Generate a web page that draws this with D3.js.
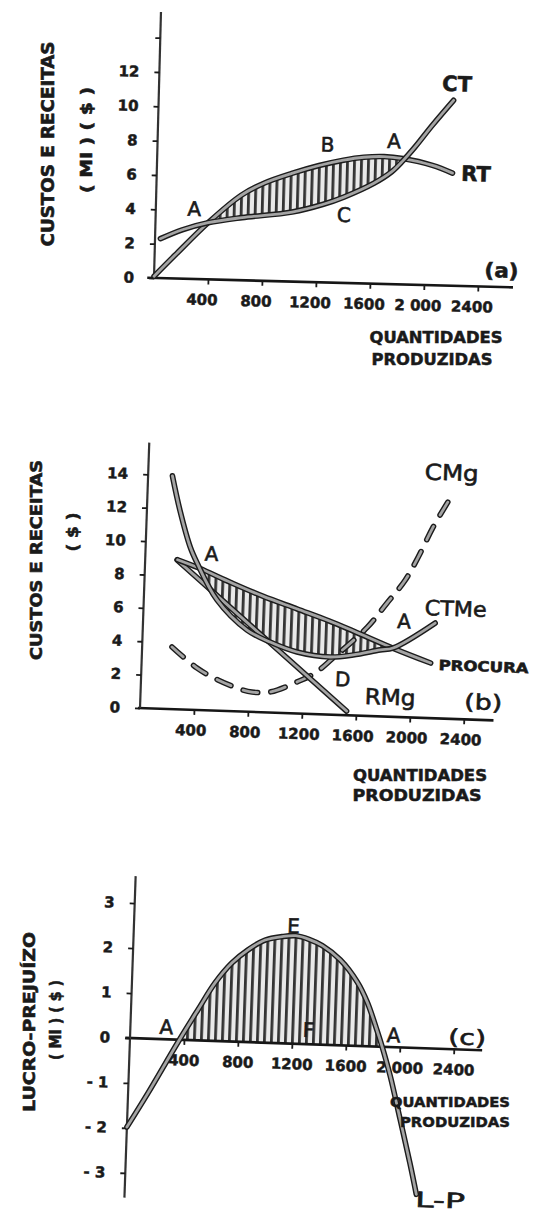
<!DOCTYPE html>
<html>
<head>
<meta charset="utf-8">
<script src="https://cdn.jsdelivr.net/npm/d3@7"></script>
<style>
  body { margin: 0; background: #fff; }
  svg { display: block; background: #fff; }
  text { font-family: "DejaVu Sans", sans-serif; fill: #1a1a1a; }
</style>
</head>
<body>
<div id="chart"></div>
<script>
// (a) receita total / custo total (milhares de $)
var rtQ = [0, 150, 390, 630, 800, 1000, 1200, 1380, 1530, 1680, 1820, 2040, 2190];
var rtV = [0.1, 1.35, 3.3, 4.95, 5.7, 6.3, 6.8, 7.15, 7.35, 7.42, 7.33, 6.98, 6.56];
var ctQ = [40, 200, 390, 640, 1010, 1240, 1390, 1610, 1740, 1820, 1905, 2030, 2184];
var ctV = [2.3, 2.85, 3.3, 3.65, 4.05, 4.55, 5.0, 5.85, 6.55, 7.2, 8.0, 9.3, 10.8];

// (b) procura, receita marginal, custo medio e custo marginal ($)
var procuraQ = [240, 400, 640, 880, 1140, 1380, 1560, 1860, 2140];
var procuraV = [8.95, 8.5, 7.7, 6.95, 6.25, 5.6, 5.05, 4.1, 3.3];
var rmgQ = [236, 1530];
var rmgV = [8.94, 0.25];
var ctmeQ = [180, 245, 330, 385, 542, 772, 946, 1148, 1394, 1564, 1763, 1858, 2163];
var ctmeV = [13.96, 11.9, 9.74, 8.8, 6.63, 4.89, 4.22, 3.68, 3.45, 3.62, 3.98, 4.12, 5.7];
var cmgQ = [221, 412, 570, 758, 825, 959, 1156, 1287, 1417, 1661, 1802, 1930, 2020, 2124, 2242];
var cmgV = [3.72, 2.51, 1.84, 1.29, 1.19, 1.23, 1.89, 2.46, 3.4, 5.3, 6.8, 8.2, 9.6, 11.45, 13.2];

// (c) lucro-prejuizo (milhares de $)
var lpQ = [0, 147, 357, 496, 615, 736, 851, 975, 1100, 1200, 1300, 1400, 1536, 1668, 1747, 1828, 1869, 1936, 2021, 2106, 2160];
var lpV = [-1.98, -1.21, -0.05, 0.68, 1.29, 1.75, 2.05, 2.28, 2.37, 2.4, 2.33, 2.2, 1.9, 1.42, 0.98, 0.35, 0, -0.64, -1.6, -2.58, -3.25];

// ticks
var xTicks = [400, 800, 1200, 1600, 2000, 2400];
var xTickLabelsA = ['400', '800', '1200', '1600', '2 000', '2400'];
var xTickLabelsB = ['400', '800', '1200', '1600', '2000', '2400'];
var xTickLabelsC = ['400', '800', '1200', '1600', '2 000', '2400'];
var yTicksAB = [0, 2, 4, 6, 8, 10, 12, 14];
var yTickLabelsA = ['0', '2', '4', '6', '8', '10', '12', ''];
var yTickLabelsB = ['0', '2', '4', '6', '8', '10', '12', '14'];
var yTicksC = [-3, -2, -1, 0, 1, 2, 3];
var yTickLabelsC = ['- 3', '- 2', '- 1', '0', '1', '2', '3'];

// curve labels: text, quantity, value
var labelsA = [['A', 285, 4.1], ['B', 1260, 8.04], ['A', 1750, 8.34], ['C', 1395, 3.98],
               ['CT', 2207, 11.78], ['RT', 2364, 6.57], ['(a)', 2572, 0.98]];
var labelsB = [['A', 490, 9.4], ['A', 1933, 5.76], ['CMg', 2247, 14.75], ['CTMe', 2311, 6.62],
               ['PROCURA', 2533, 3.2], ['D', 1493, 2.16], ['RMg', 1849, 1.18], ['(b)', 2539, 1.08]];
var labelsC = [['E', 1182, 2.62], ['F', 1320, 0.32], ['A', 267, 0.28], ['A', 1951, 0.27],
               ['(c)', 2496, 0.28], ['L-P', 2338, -3.36]];

var labelStyle = {
  'CT': { size: 21, weight: 'bold' },
  'RT': { size: 21, weight: 'bold' },
  'CMg': { size: 22, weight: 'normal', len: 54 },
  'CTMe': { size: 21, weight: 'normal', len: 62 },
  'RMg': { size: 22, weight: 'normal', len: 51 },
  'PROCURA': { size: 14, weight: 'bold', len: 90 },
  'L-P': { size: 21, weight: 'normal', len: 50 },
  '(a)': { size: 20, weight: 'bold', len: 34 },
  '(b)': { size: 21, weight: 'normal', len: 38 },
  '(c)': { size: 21, weight: 'normal', len: 38 }
};

var width = 533, height = 1213;
var svg = d3.select('#chart').append('svg')
  .attr('width', width)
  .attr('height', height);

// vertical hatching used for the profit areas
var pat = svg.append('defs').append('pattern')
  .attr('id', 'hatch')
  .attr('patternUnits', 'userSpaceOnUse')
  .attr('width', 7)
  .attr('height', 7);
pat.append('rect').attr('width', 7).attr('height', 7).attr('fill', '#e9e9e9');
pat.append('rect').attr('width', 2.8).attr('height', 7).attr('fill', '#333');

var smooth = d3.curveCatmullRom.alpha(0.5);

function drawPanel(p){
  // the scanned figure is slightly tilted, so each panel is rotated a bit
  var g = svg.append('g')
    .attr('transform', 'translate(' + p.ox + ',' + p.oy + ') rotate(' + p.rot + ')');

  var x = d3.scaleLinear().domain([0, 2400]).range([0, 324]);
  var y = d3.scaleLinear().domain(p.yDom).range(p.yRng);

  var line = d3.line()
    .x(function(d){ return x(d[0]) })
    .y(function(d){ return y(d[1]) })
    .curve(smooth);

  // shaded area: under the upper curve, clipped to above the lower one
  var under = d3.area()
    .x(function(d){ return x(d[0]) })
    .y0(y(0))
    .y1(function(d){ return y(d[1]) })
    .curve(smooth);
  var above = d3.area()
    .x(function(d){ return x(d[0]) })
    .y0(y(p.axisY[1]))
    .y1(function(d){ return y(d[1]) })
    .curve(smooth);

  var clip = g.append('clipPath').attr('id', 'clip-' + p.id);
  if(p.lower){
    clip.append('path').attr('d', above(p.lower));
  }else{
    clip.append('rect')
      .attr('x', x(-100)).attr('y', y(p.axisY[1]))
      .attr('width', x(2800) - x(-100))
      .attr('height', y(0) - y(p.axisY[1]));
  }
  g.append('path')
    .attr('d', under(p.upper))
    .attr('fill', 'url(#hatch)')
    .attr('clip-path', 'url(#clip-' + p.id + ')');

  // axes
  g.append('line')
    .attr('x1', x(p.axisX[0])).attr('x2', x(p.axisX[1]))
    .attr('y1', y(0)).attr('y2', y(0))
    .attr('stroke', '#161616').attr('stroke-width', 2.6);
  g.append('line')
    .attr('x1', x(0)).attr('x2', x(0))
    .attr('y1', y(p.axisY[0])).attr('y2', y(p.axisY[1]))
    .attr('stroke', '#333').attr('stroke-width', 2.2);

  var yAxis = d3.axisLeft(y)
    .tickValues(p.yTicks)
    .tickFormat(function(d, i){ return p.yLabels[i] })
    .tickSize(5)
    .tickPadding(15);
  var ya = g.append('g').call(yAxis)
    .attr('font-family', '"DejaVu Sans", sans-serif')
    .attr('font-size', 15)
    .attr('font-weight', 'bold')
    .attr('color', '#1a1a1a');
  ya.select('.domain').remove();
  ya.selectAll('.tick line').attr('stroke-width', 1.8);
  ya.selectAll('.tick text').attr('stroke', '#1a1a1a').attr('stroke-width', 0.5);

  var xAxis = d3.axisBottom(x)
    .tickValues(xTicks)
    .tickFormat(function(d, i){ return p.xLabels[i] })
    .tickSize(5)
    .tickPadding(10);
  var xa = g.append('g')
    .attr('transform', 'translate(0,' + y(0) + ')')
    .call(xAxis)
    .attr('font-family', '"DejaVu Sans", sans-serif')
    .attr('font-size', 15)
    .attr('font-weight', 'bold')
    .attr('color', '#1a1a1a');
  xa.select('.domain').remove();
  xa.selectAll('.tick line').attr('stroke-width', 1.8);
  xa.selectAll('.tick text')
    .attr('dx', p.xLabelDx)
    .attr('stroke', '#1a1a1a')
    .attr('stroke-width', 0.5);

  // curves: dark outline with a grey core, like the printed bands
  p.curves.forEach(function(c){
    g.append('path')
      .attr('d', line(c.d))
      .attr('fill', 'none')
      .attr('stroke', '#1c1c1c')
      .attr('stroke-width', 5.6)
      .attr('stroke-linecap', 'round')
      .attr('stroke-dasharray', c.dashed ? '15 13' : null);
    g.append('path')
      .attr('d', line(c.d))
      .attr('fill', 'none')
      .attr('stroke', '#a4a4a4')
      .attr('stroke-width', 2.8)
      .attr('stroke-linecap', 'round')
      .attr('stroke-dasharray', c.dashed ? '15 13' : null);
  });

  g.selectAll('.lbl')
    .data(p.labels)
    .enter()
    .append('text')
    .classed('lbl', true)
    .attr('x', function(d){ return x(d[1]) })
    .attr('y', function(d){ return y(d[2]) })
    .attr('dy', '0.36em')
    .attr('text-anchor', 'middle')
    .attr('font-size', function(d){ return labelStyle[d[0]] ? labelStyle[d[0]].size : 20 })
    .attr('font-weight', function(d){ return labelStyle[d[0]] ? labelStyle[d[0]].weight : 'normal' })
    .attr('textLength', function(d){ return labelStyle[d[0]] && labelStyle[d[0]].len ? labelStyle[d[0]].len : null })
    .attr('lengthAdjust', 'spacingAndGlyphs')
    .attr('stroke', '#1a1a1a')
    .attr('stroke-width', 0.6)
    .text(function(d){ return d[0] });
}

function series(q, v){ return d3.zip(q, v) }

drawPanel({
  id: 'a', ox: 154, oy: 278, rot: 1.5,
  yDom: [0, 14], yRng: [0, -240.4],
  axisX: [-50, 2660], axisY: [0, 15.5],
  yTicks: yTicksAB, yLabels: yTickLabelsA,
  xLabels: xTickLabelsA, xLabelDx: -6,
  upper: series(rtQ, rtV), lower: series(ctQ, ctV),
  curves: [{ d: series(rtQ, rtV) }, { d: series(ctQ, ctV) }],
  labels: labelsA
});

drawPanel({
  id: 'b', ox: 140, oy: 708, rot: 2,
  yDom: [0, 14], yRng: [0, -233.8],
  axisX: [-15, 2620], axisY: [0, 15.9],
  yTicks: yTicksAB, yLabels: yTickLabelsB,
  xLabels: xTickLabelsB, xLabelDx: -3,
  upper: series(procuraQ, procuraV), lower: series(ctmeQ, ctmeV),
  curves: [
    { d: series(cmgQ, cmgV), dashed: true },
    { d: series(rmgQ, rmgV) },
    { d: series(procuraQ, procuraV) },
    { d: series(ctmeQ, ctmeV) }
  ],
  labels: labelsB
});

drawPanel({
  id: 'c', ox: 130, oy: 1038, rot: 2,
  yDom: [-3, 3], yRng: [135, -135],
  axisX: [-35, 2610], axisY: [-3.55, 3.6],
  yTicks: yTicksC, yLabels: yTickLabelsC,
  xLabels: xTickLabelsC, xLabelDx: 0,
  upper: series(lpQ, lpV), lower: null,
  curves: [{ d: series(lpQ, lpV) }],
  labels: labelsC
});

// axis titles
var yTitles = [
  { t: 'CUSTOS E RECEITAS', cx: 48, cy: 144, size: 17, len: 205 },
  { t: '( MI ) ( $ )', cx: 86, cy: 140, size: 16, len: 106 },
  { t: 'CUSTOS E RECEITAS', cx: 36, cy: 560, size: 16, len: 200 },
  { t: '( $ )', cx: 72, cy: 532, size: 16, len: 39 },
  { t: 'LUCRO-PREJUÍZO', cx: 29, cy: 1022, size: 16, len: 180 },
  { t: '( MI ) ( $ )', cx: 56, cy: 1020, size: 15, len: 80 }
];
svg.selectAll('.ytitle')
  .data(yTitles)
  .enter()
  .append('text')
  .classed('ytitle', true)
  .attr('transform', function(d){ return 'translate(' + d.cx + ',' + d.cy + ') rotate(-90)' })
  .attr('dy', '0.36em')
  .attr('text-anchor', 'middle')
  .attr('font-weight', 'bold')
  .attr('font-size', function(d){ return d.size })
  .attr('textLength', function(d){ return d.len })
  .attr('lengthAdjust', 'spacingAndGlyphs')
  .attr('stroke', '#1a1a1a')
  .attr('stroke-width', 0.6)
  .text(function(d){ return d.t });

var xTitles = [
  { t: 'QUANTIDADES', cx: 436, cy: 338, size: 15, len: 133 },
  { t: 'PRODUZIDAS', cx: 432, cy: 360, size: 15, len: 121 },
  { t: 'QUANTIDADES', cx: 420, cy: 776, size: 15, len: 134 },
  { t: 'PRODUZIDAS', cx: 417, cy: 796, size: 15, len: 129 },
  { t: 'QUANTIDADES', cx: 450, cy: 1102, size: 14, len: 120 },
  { t: 'PRODUZIDAS', cx: 455, cy: 1122, size: 14, len: 110 }
];
svg.selectAll('.xtitle')
  .data(xTitles)
  .enter()
  .append('text')
  .classed('xtitle', true)
  .attr('x', function(d){ return d.cx })
  .attr('y', function(d){ return d.cy })
  .attr('dy', '0.36em')
  .attr('text-anchor', 'middle')
  .attr('font-weight', 'bold')
  .attr('font-size', function(d){ return d.size })
  .attr('textLength', function(d){ return d.len })
  .attr('lengthAdjust', 'spacingAndGlyphs')
  .attr('stroke', '#1a1a1a')
  .attr('stroke-width', 0.5)
  .text(function(d){ return d.t });
</script>
</body>
</html>
